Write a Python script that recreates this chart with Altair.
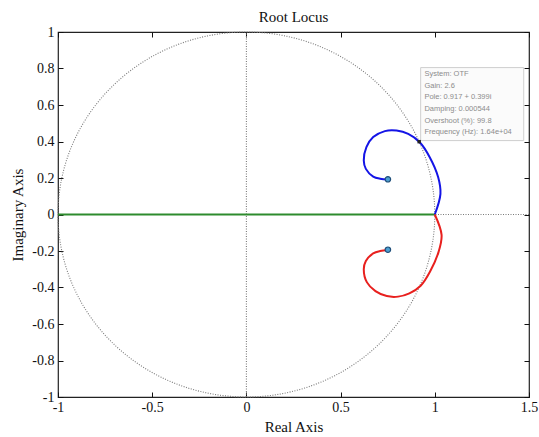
import altair as alt
import pandas as pd
import numpy as np

# ---- data ----
blue_x = [0.751, 0.710, 0.673, 0.634, 0.623, 0.637, 0.673, 0.735, 0.797, 0.859, 0.920, 0.973, 1.018, 1.030, 1.000]
blue_y = [0.192, 0.196, 0.208, 0.250, 0.296, 0.369, 0.424, 0.457, 0.460, 0.442, 0.396, 0.314, 0.204, 0.113, 0.000]
red_x = [0.751, 0.710, 0.673, 0.634, 0.623, 0.640, 0.685, 0.745, 0.805, 0.865, 0.925, 0.975, 1.020, 1.036, 1.000]
red_y = [-0.195, -0.200, -0.213, -0.255, -0.300, -0.372, -0.420, -0.447, -0.450, -0.432, -0.390, -0.312, -0.205, -0.112, 0.000]
green_x = [-1.0, 1.0]
green_y = [0.0, 0.0]
pole_x = [0.751, 0.751]
pole_y = [0.193, -0.193]
tip_x = [0.917]
tip_y = [0.399]
tip_lines = ["System: OTF", "Gain: 2.6", "Pole: 0.917 + 0.399i", "Damping: 0.000544",
             "Overshoot (%): 99.8", "Frequency (Hz): 1.64e+04"]
x_ticks = [-1, -0.5, 0, 0.5, 1, 1.5]
y_ticks = [-1, -0.8, -0.6, -0.4, -0.2, 0, 0.2, 0.4, 0.6, 0.8, 1]

# unit circle (reference grid of the z-plane)
ang = np.linspace(0, 2 * np.pi, 361)
circle = pd.DataFrame({"x": np.cos(ang), "y": np.sin(ang), "o": np.arange(361)})

blue = pd.DataFrame({"x": blue_x, "y": blue_y, "o": range(len(blue_x))})
red = pd.DataFrame({"x": red_x, "y": red_y, "o": range(len(red_x))})
green = pd.DataFrame({"x": green_x, "y": green_y})
poles = pd.DataFrame({"x": pole_x, "y": pole_y})
tip = pd.DataFrame({"x": tip_x, "y": tip_y})
box = pd.DataFrame({"x": [tip_x[0] + 0.008], "x2": [tip_x[0] + 0.555],
                    "y": [tip_y[0] + 0.006], "y2": [tip_y[0] + 0.406]})
txt = pd.DataFrame({"x": [tip_x[0] + 0.028], "y": [tip_y[0] + 0.392], "t": [tip_lines]})
axes_lines = pd.DataFrame({"x": [-1.0, 0.0], "x2": [1.5, 0.0], "y": [0.0, -1.0], "y2": [0.0, 1.0]})

xs = alt.Scale(domain=[-1, 1.5], nice=False, zero=False)
ys = alt.Scale(domain=[-1, 1], nice=False, zero=False)

lab_expr = "datum.value < 0 ? '-' + format(-datum.value, '~g') : format(datum.value, '~g')"
FONT = "Liberation Serif"

x_bottom = alt.Axis(orient="bottom", values=x_ticks, labelExpr=lab_expr, offset=-5, tickSize=5,
                    domain=False, grid=False, labelPadding=3, title="Real Axis", titlePadding=5,
                    labelFont=FONT, titleFont=FONT, labelFontSize=14, titleFontSize=15,
                    titleFontWeight="normal", labelColor="#111", titleColor="#111",
                    tickColor="#111", labelFlush=False)
y_left = alt.Axis(orient="left", values=y_ticks, labelExpr=lab_expr, offset=-5, tickSize=5,
                  domain=False, grid=False, labelPadding=4, title="Imaginary Axis", titlePadding=6,
                  labelFont=FONT, titleFont=FONT, labelFontSize=14, titleFontSize=15,
                  titleFontWeight="normal", labelColor="#111", titleColor="#111",
                  tickColor="#111", labelFlush=False)
x_top = alt.Axis(orient="top", values=x_ticks, labels=False, offset=-5, tickSize=5,
                 domain=False, grid=False, title=None, tickColor="#111")
y_right = alt.Axis(orient="right", values=y_ticks, labels=False, offset=-5, tickSize=5,
                   domain=False, grid=False, title=None, tickColor="#111")

dot = dict(color="#7a7a7a", strokeWidth=1.1, strokeDash=[1, 1.5])

circ = alt.Chart(circle).mark_line(**dot).encode(
    x=alt.X("x:Q", scale=xs, axis=x_bottom),
    y=alt.Y("y:Q", scale=ys, axis=y_left),
    order="o:Q")

axl = alt.Chart(axes_lines).mark_rule(**dot).encode(
    x=alt.X("x:Q", scale=xs, axis=x_top), x2="x2:Q",
    y=alt.Y("y:Q", scale=ys, axis=y_right), y2="y2:Q")

gl = alt.Chart(green).mark_line(color="#2e8b2e", strokeWidth=2).encode(
    x=alt.X("x:Q", scale=xs, axis=None), y=alt.Y("y:Q", scale=ys, axis=None))

bl = alt.Chart(blue).mark_line(color="#1414e6", strokeWidth=2, interpolate="catmull-rom").encode(
    x=alt.X("x:Q", scale=xs, axis=None), y=alt.Y("y:Q", scale=ys, axis=None), order="o:Q")

rl = alt.Chart(red).mark_line(color="#e8201e", strokeWidth=2, interpolate="catmull-rom").encode(
    x=alt.X("x:Q", scale=xs, axis=None), y=alt.Y("y:Q", scale=ys, axis=None), order="o:Q")

pl = alt.Chart(poles).mark_point(shape="circle", filled=True, size=30, color="#4d9fd0",
                                 stroke="#1f4e79", strokeWidth=1.2, opacity=1).encode(
    x=alt.X("x:Q", scale=xs, axis=None), y=alt.Y("y:Q", scale=ys, axis=None))

bx = alt.Chart(box).mark_rect(fill="#fbfbfb", fillOpacity=0.92, stroke="#cfcfcf", strokeWidth=1).encode(
    x=alt.X("x:Q", scale=xs, axis=None), x2="x2:Q",
    y=alt.Y("y:Q", scale=ys, axis=None), y2="y2:Q")

tm = alt.Chart(tip).mark_square(size=12, color="#222", opacity=1).encode(
    x=alt.X("x:Q", scale=xs, axis=None), y=alt.Y("y:Q", scale=ys, axis=None))

tt = alt.Chart(txt).mark_text(align="left", baseline="top", font="Liberation Sans", fontSize=7.5,
                              color="#8c8c8c", lineHeight=11.6).encode(
    x=alt.X("x:Q", scale=xs, axis=None), y=alt.Y("y:Q", scale=ys, axis=None), text="t")

chart = alt.layer(circ, axl, gl, bl, rl, pl, bx, tm, tt).resolve_axis(
    x="independent", y="independent"
).properties(
    width=471, height=365,
    title=alt.TitleParams("Root Locus", font=FONT, fontSize=15, fontWeight="normal",
                          color="#111", offset=0, anchor="middle"),
    autosize=alt.AutoSizeParams(type="none"),
    padding={"left": 58, "top": 32, "right": 10, "bottom": 40},
    background="white",
).configure_view(stroke="#222", strokeWidth=1.2)

chart.save("out.html", embed_options={"renderer": "svg", "actions": False})
